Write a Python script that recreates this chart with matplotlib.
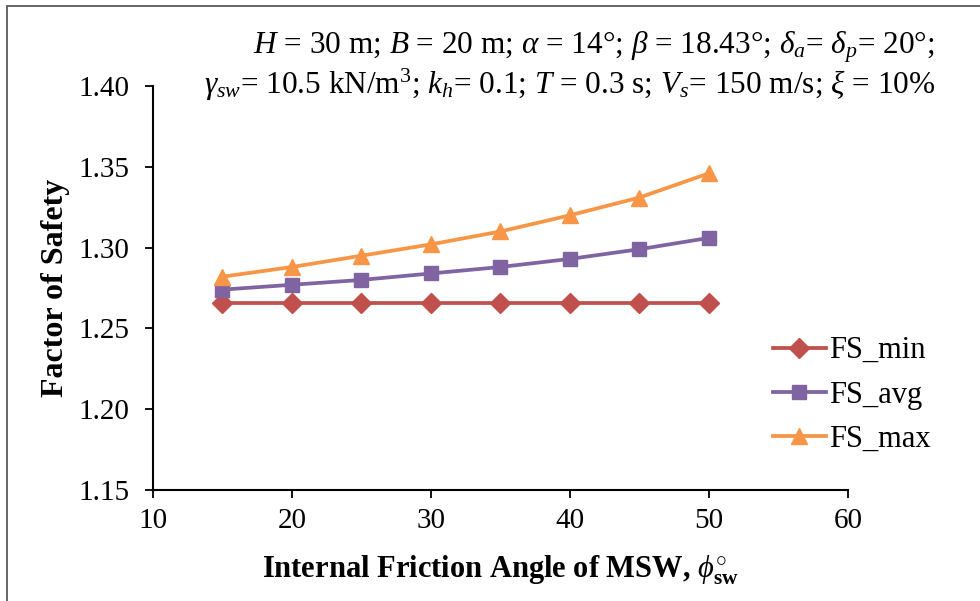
import matplotlib.pyplot as plt
from matplotlib.patches import Rectangle

plt.rcParams['font.family'] = ['Liberation Serif', 'DejaVu Serif']
plt.rcParams['mathtext.fontset'] = 'custom'
plt.rcParams['mathtext.rm'] = 'Liberation Serif'
plt.rcParams['mathtext.it'] = 'Liberation Serif:italic'
plt.rcParams['mathtext.bf'] = 'Liberation Serif:bold'

# friction angle of the waste (degrees) and factor of safety results
phi_sw = [15, 20, 25, 30, 35, 40, 45, 50]
fs_min = [1.266, 1.266, 1.266, 1.266, 1.266, 1.266, 1.266, 1.266]
fs_avg = [1.274, 1.277, 1.280, 1.284, 1.288, 1.293, 1.299, 1.306]
fs_max = [1.282, 1.288, 1.295, 1.302, 1.310, 1.320, 1.331, 1.346]

x_ticks = [10, 20, 30, 40, 50, 60]
y_ticks = [1.15, 1.20, 1.25, 1.30, 1.35, 1.40]

fig = plt.figure(figsize=(9.8, 6.01), dpi=100)
ax = fig.add_axes([0.1561, 0.1847, 0.7092, 0.6722])

ax.plot(phi_sw, fs_min, color="#C0504D", lw=2.7, marker="D", ms=10, label="FS_min")
ax.plot(phi_sw, fs_avg, color="#8064A2", lw=2.7, marker="s", ms=10, label="FS_avg")
ax.plot(phi_sw, fs_max, color="#F79646", lw=2.7, marker="^", ms=11.5, label="FS_max")

ax.set_xlim(10, 60)
ax.set_ylim(1.15, 1.40)
ax.set_xticks(x_ticks)
ax.set_yticks(y_ticks)
ax.set_xticklabels([str(t) for t in x_ticks])
ax.set_yticklabels([f"{t:.2f}" for t in y_ticks])
ax.tick_params(labelsize=21, width=1.3, length=6, direction="out", color="black")
ax.tick_params(axis="y", pad=11)
ax.tick_params(axis="x", pad=7)

for side in ["top", "right"]:
    ax.spines[side].set_visible(False)
for side in ["left", "bottom"]:
    ax.spines[side].set_linewidth(1.5)

ax.set_ylabel("Factor of Safety", fontsize=23, fontweight="bold", labelpad=6)
ax.set_xlabel(r"Internal Friction Angle of MSW, $\phi^{\circ}_{\mathbf{sw}}$",
              fontsize=22, fontweight="bold", labelpad=14)

ax.legend(loc="center left", bbox_to_anchor=(0.852, 0.235), frameon=False,
          fontsize=22, handlelength=1.75, handletextpad=0.1, labelspacing=0.5)

params = (r"$H$ = 30 m; $B$ = 20 m; $\alpha$ = 14°; $\beta$ = 18.43°; "
          r"$\delta_a$= $\delta_p$= 20°;" "\n"
          r"$\gamma_{sw}$= 10.5 kN/m$^3$; $k_h$= 0.1; $T$ = 0.3 s; "
          r"$V_s$= 150 m/s; $\xi$ = 10%")
fig.text(935 / 980, 1 - 66 / 601, params, fontsize=22.5, ha="right", va="center",
         multialignment="right", linespacing=1.08)

# thin grey frame around the chart
fig.patches.append(Rectangle((7 / 980, -0.05), 1.05, 1 - 6 / 601 + 0.05,
                             transform=fig.transFigure, fill=False,
                             edgecolor="#595959", lw=1.3))

fig.savefig("out.png", dpi=100)
